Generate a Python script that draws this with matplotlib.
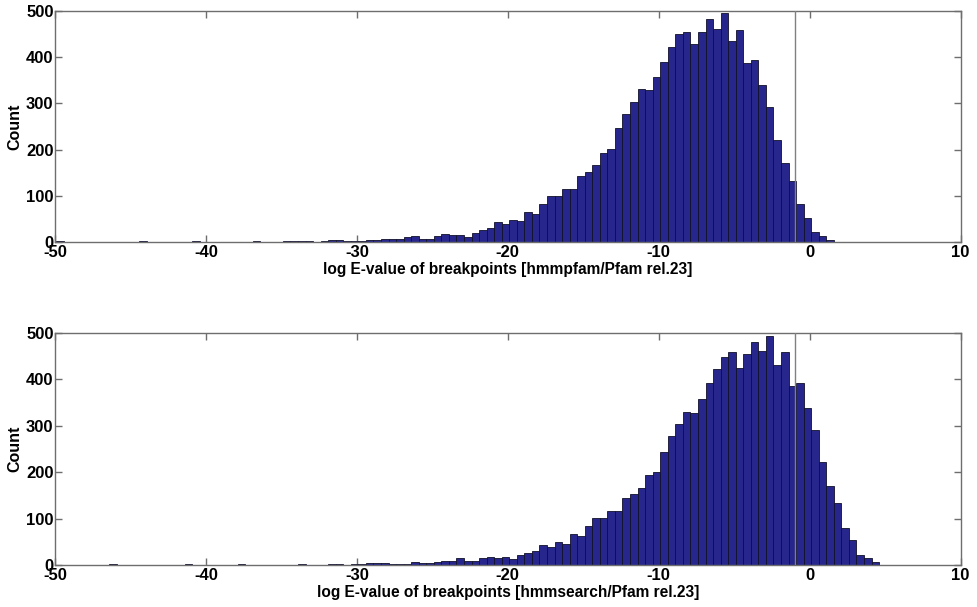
import matplotlib
matplotlib.use("Agg")
import matplotlib.pyplot as plt
import numpy as np

# ---------------- data ----------------
bin_width = 0.5
first_edge = -49.9   # left edge of first bin

# counts per 0.5-wide bin, starting at -49.9 (hmmpfam)
top_counts = [
    2, 0, 0, 0, 0, 0, 0, 0, 0, 0,          # -49.9 .. -45.4
    0, 2, 0, 0, 0, 0, 0, 0, 2, 0,          # -44.9 .. -40.4
    0, 0, 0, 0, 0, 0, 2, 1, 0, 1,          # -39.9 .. -35.4
    2, 2, 3, 2, 1, 3, 4, 4, 2, 2,          # -34.9 .. -30.4
    3, 4, 5, 6, 6, 7, 11, 12, 6, 7,        # -29.9 .. -25.4
    12, 17, 15, 15, 11, 20, 25, 30, 43, 38,  # -24.9 .. -20.4
    48, 45, 64, 61, 83, 100, 100, 115, 115, 143,  # -19.9 .. -15.4
    152, 167, 193, 201, 246, 277, 304, 331, 328, 358,  # -14.9 .. -10.4
    390, 423, 450, 455, 429, 455, 483, 461, 496, 434,  # -9.9 .. -5.4
    459, 387, 393, 339, 293, 221, 172, 132, 82, 53,    # -4.9 .. -0.4
    21, 14, 4, 0,                                      # 0.1 .. 1.6
]

# counts per 0.5-wide bin, starting at -49.9 (hmmsearch)
bottom_counts = [
    0, 0, 0, 0, 0, 0, 0, 2, 0, 0,          # -49.9 .. -45.4
    0, 0, 0, 0, 0, 0, 0, 2, 0, 0,          # -44.9 .. -40.4
    0, 0, 0, 0, 2, 0, 0, 0, 0, 0,          # -39.9 .. -35.4
    0, 0, 2, 0, 1, 1, 2, 2, 1, 2,          # -34.9 .. -30.4
    3, 4, 4, 5, 2, 2, 3, 6, 5, 5,          # -29.9 .. -25.4
    6, 8, 9, 14, 9, 9, 14, 17, 14, 17,     # -24.9 .. -20.4
    12, 21, 25, 30, 43, 38, 49, 45, 66, 63,  # -19.9 .. -15.4
    83, 101, 101, 116, 116, 145, 152, 165, 193, 201,  # -14.9 .. -10.4
    244, 278, 303, 330, 327, 358, 392, 422, 448, 458,  # -9.9 .. -5.4
    425, 455, 481, 461, 494, 432, 458, 386, 393, 339,  # -4.9 .. -0.4
    292, 221, 170, 133, 80, 54, 22, 14, 6, 0,          # 0.1 .. 4.6
]

xlabels = ["log E-value of breakpoints [hmmpfam/Pfam rel.23]",
           "log E-value of breakpoints [hmmsearch/Pfam rel.23]"]
ylabel = "Count"
xticks = [-50, -40, -30, -20, -10, 0, 10]
yticks = [0, 100, 200, 300, 400, 500]
threshold = -1

# ---------------- plot ----------------
plt.rcParams['font.family'] = ['Liberation Sans', 'DejaVu Sans']
plt.rcParams['font.weight'] = 'bold'
plt.rcParams['axes.unicode_minus'] = False

fig = plt.figure(figsize=(9.78, 6.07), dpi=100)
ax1 = fig.add_axes([0.0562, 0.6013, 0.926, 0.3806])
ax2 = fig.add_axes([0.0562, 0.0692, 0.926, 0.3822])

bar_color = '#27268c'
edge_color = '#10102a'
frame_color = '#6e6e6e'

for ax, counts, xl in [(ax1, top_counts, xlabels[0]), (ax2, bottom_counts, xlabels[1])]:
    lefts = first_edge + bin_width * np.arange(len(counts))
    ax.bar(lefts, counts, width=bin_width, align='edge',
           color=bar_color, edgecolor=edge_color, linewidth=0.6, zorder=2)
    ax.axvline(threshold, color='#808080', linewidth=1.0, zorder=3)
    ax.set_xlim(-50, 10)
    ax.set_ylim(0, 500)
    ax.set_xticks(xticks)
    ax.set_yticks(yticks)
    ax.tick_params(direction='in', length=5, width=1, color=frame_color,
                   top=True, right=True, labelsize=12)
    ax.tick_params(axis='x', pad=2)
    ax.tick_params(axis='y', pad=1)
    for lab in ax.get_xticklabels() + ax.get_yticklabels():
        lab.set_fontweight('bold')
    for sp in ax.spines.values():
        sp.set_color(frame_color)
        sp.set_linewidth(1.0)
    ax.set_xlabel(xl, fontsize=11.2, fontweight='bold', labelpad=1.5)
    ax.set_ylabel(ylabel, fontsize=11.5, fontweight='bold', labelpad=3)

fig.savefig("out.png", dpi=100)
